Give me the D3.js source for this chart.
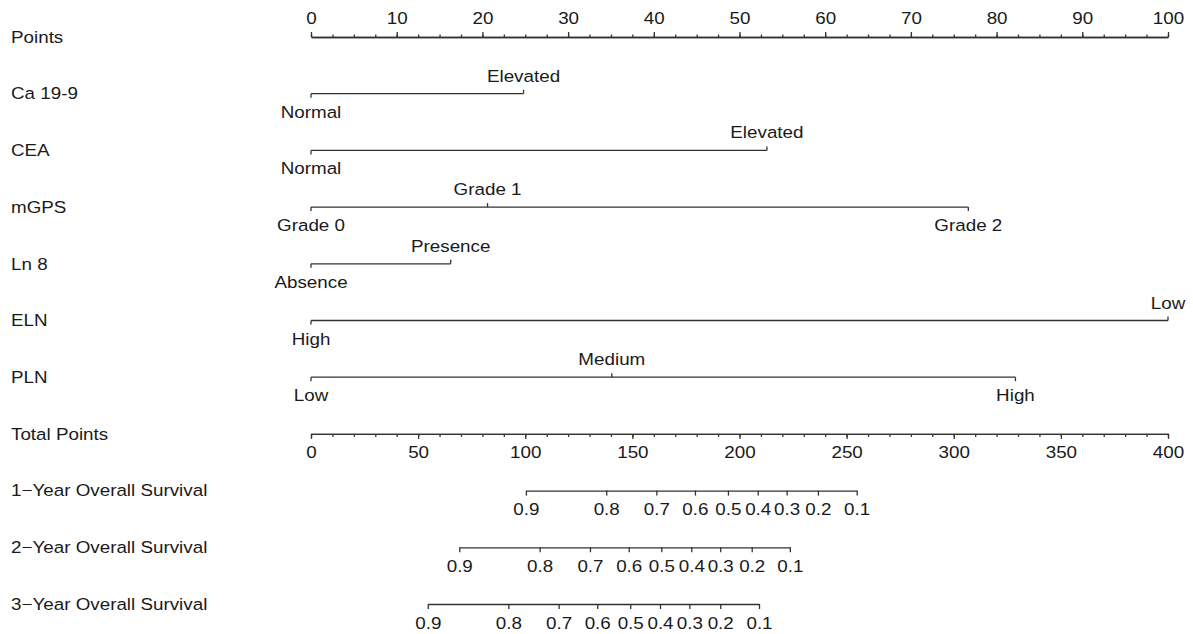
<!DOCTYPE html>
<html>
<head>
<meta charset="utf-8">
<script src="https://cdn.jsdelivr.net/npm/d3@7"></script>
<style>
  html, body { margin: 0; padding: 0; background: #fff; }
  svg { display: block; }
</style>
</head>
<body>
<svg id="chart" width="1193" height="634"></svg>
<script>
// rows of the nomogram, top to bottom
const rowLabels = ['Points', 'Ca 19-9', 'CEA', 'mGPS', 'Ln 8', 'ELN', 'PLN', 'Total Points',
  '1\u2212Year Overall Survival', '2\u2212Year Overall Survival', '3\u2212Year Overall Survival']

// predictor levels and their points
const caLevels = ['Normal', 'Elevated']
const caPoints = [0, 24.8]
const ceaLevels = ['Normal', 'Elevated']
const ceaPoints = [0, 53.2]
const mgpsLevels = ['Grade 0', 'Grade 1', 'Grade 2']
const mgpsPoints = [0, 20.6, 76.7]
const ln8Levels = ['Absence', 'Presence']
const ln8Points = [0, 16.3]
const elnLevels = ['High', 'Low']
const elnPoints = [0, 100]
const plnLevels = ['Low', 'Medium', 'High']
const plnPoints = [0, 35.1, 82.2]

// survival probabilities and the total points where they fall
const survProbs = [0.9, 0.8, 0.7, 0.6, 0.5, 0.4, 0.3, 0.2, 0.1]
const os1Total = [100.3, 137.8, 161.2, 179.2, 194.6, 208.5, 222.0, 236.6, 254.7]
const os2Total = [69.2, 106.7, 130.2, 148.3, 163.5, 177.5, 191.0, 205.7, 223.5]
const os3Total = [54.5, 92.1, 115.6, 133.6, 149.0, 162.9, 176.6, 191.0, 209.1]

const predictors = [
  { levels: caLevels, points: caPoints },
  { levels: ceaLevels, points: ceaPoints },
  { levels: mgpsLevels, points: mgpsPoints },
  { levels: ln8Levels, points: ln8Points },
  { levels: elnLevels, points: elnPoints },
  { levels: plnLevels, points: plnPoints }
]
const survival = [os1Total, os2Total, os3Total]

const FONT = '"Liberation Sans", Arial, Helvetica, sans-serif'
const FS = 16.5
const SX = 1.14 // the original text is a little stretched sideways
const TXT = '#1a1a1a'
const LINE = '#333'

const svg = d3.select('#chart')
const x0 = 311, x1 = 1168
const rowY = d3.scaleLinear().domain([0, rowLabels.length - 1]).range([37, 604])

const xPts = d3.scaleLinear().domain([0, 100]).range([x0, x1])
const xTot = d3.scaleLinear().domain([0, 400]).range([x0, x1])

// row labels
svg.append('g')
  .selectAll('text')
  .data(rowLabels)
  .join('text')
  .attr('transform', (_, i) => `translate(11,${rowY(i)}) scale(${SX},1)`)
  .attr('dy', '0.35em')
  .attr('fill', TXT)
  .attr('font-size', FS)
  .attr('font-family', FONT)
  .text((d) => d)

function styleAxis(g, labels) {
  g.select('.domain').attr('stroke', LINE).attr('stroke-width', 1.3)
  g.selectAll('.tick line').attr('stroke', LINE).attr('stroke-width', 1.3)
  g.selectAll('.tick text')
    .attr('fill', TXT)
    .attr('font-size', FS)
    .attr('font-family', FONT)
    .attr('transform', `scale(${SX},1)`)
  if (!labels) g.selectAll('.tick text').remove()
}

// Points axis (ticks up)
svg.append('g')
  .attr('transform', `translate(0,${rowY(0)})`)
  .call(d3.axisTop(xPts).tickValues(d3.range(0, 100.1, 2.5)).tickSize(2.5).tickSizeOuter(0).tickFormat(''))
  .call((g) => styleAxis(g, false))
svg.append('g')
  .attr('transform', `translate(0,${rowY(0)})`)
  .call(d3.axisTop(xPts).tickValues(d3.range(0, 101, 10)).tickSize(5).tickSizeOuter(0).tickPadding(8))
  .call((g) => styleAxis(g, true))

// predictor lines
predictors.forEach((p, i) => {
  const y = rowY(i + 1)
  const g = svg.append('g').attr('transform', `translate(0,${y})`)
  g.append('line')
    .attr('x1', xPts(d3.min(p.points)))
    .attr('x2', xPts(d3.max(p.points)))
    .attr('stroke', LINE)
    .attr('stroke-width', 1.3)
  const order = d3.range(p.points.length).sort((a, b) => p.points[a] - p.points[b])
  const items = order.map((k, j) => ({ label: p.levels[k], pts: p.points[k], up: j % 2 === 1 }))
  g.selectAll('line.tk')
    .data(items)
    .join('line')
    .attr('class', 'tk')
    .attr('x1', (d) => xPts(d.pts))
    .attr('x2', (d) => xPts(d.pts))
    .attr('y1', 0)
    .attr('y2', (d) => (d.up ? -4 : 4))
    .attr('stroke', LINE)
    .attr('stroke-width', 1.3)
  g.selectAll('text')
    .data(items)
    .join('text')
    .attr('transform', (d) => `translate(${xPts(d.pts)},${d.up ? -12 : 24}) scale(${SX},1)`)
    .attr('text-anchor', 'middle')
    .attr('fill', TXT)
    .attr('font-size', FS)
    .attr('font-family', FONT)
    .text((d) => d.label)
})

// Total points axis (ticks down)
const totY = rowY(7)
svg.append('g')
  .attr('transform', `translate(0,${totY})`)
  .call(d3.axisBottom(xTot).tickValues(d3.range(0, 401, 10)).tickSize(3).tickSizeOuter(0).tickFormat(''))
  .call((g) => styleAxis(g, false))
svg.append('g')
  .attr('transform', `translate(0,${totY})`)
  .call(d3.axisBottom(xTot).tickValues(d3.range(0, 401, 50)).tickSize(5).tickSizeOuter(0).tickPadding(7))
  .call((g) => styleAxis(g, true))

// survival axes
survival.forEach((tot, i) => {
  const s = d3.scaleLinear().domain(survProbs).range(tot.map(xTot))
  svg.append('g')
    .attr('transform', `translate(0,${rowY(8 + i)})`)
    .call(d3.axisBottom(s).tickValues(survProbs).tickFormat(d3.format('.1f')).tickSize(5).tickSizeOuter(0).tickPadding(8))
    .call((g) => styleAxis(g, true))
})
</script>
</body>
</html>
